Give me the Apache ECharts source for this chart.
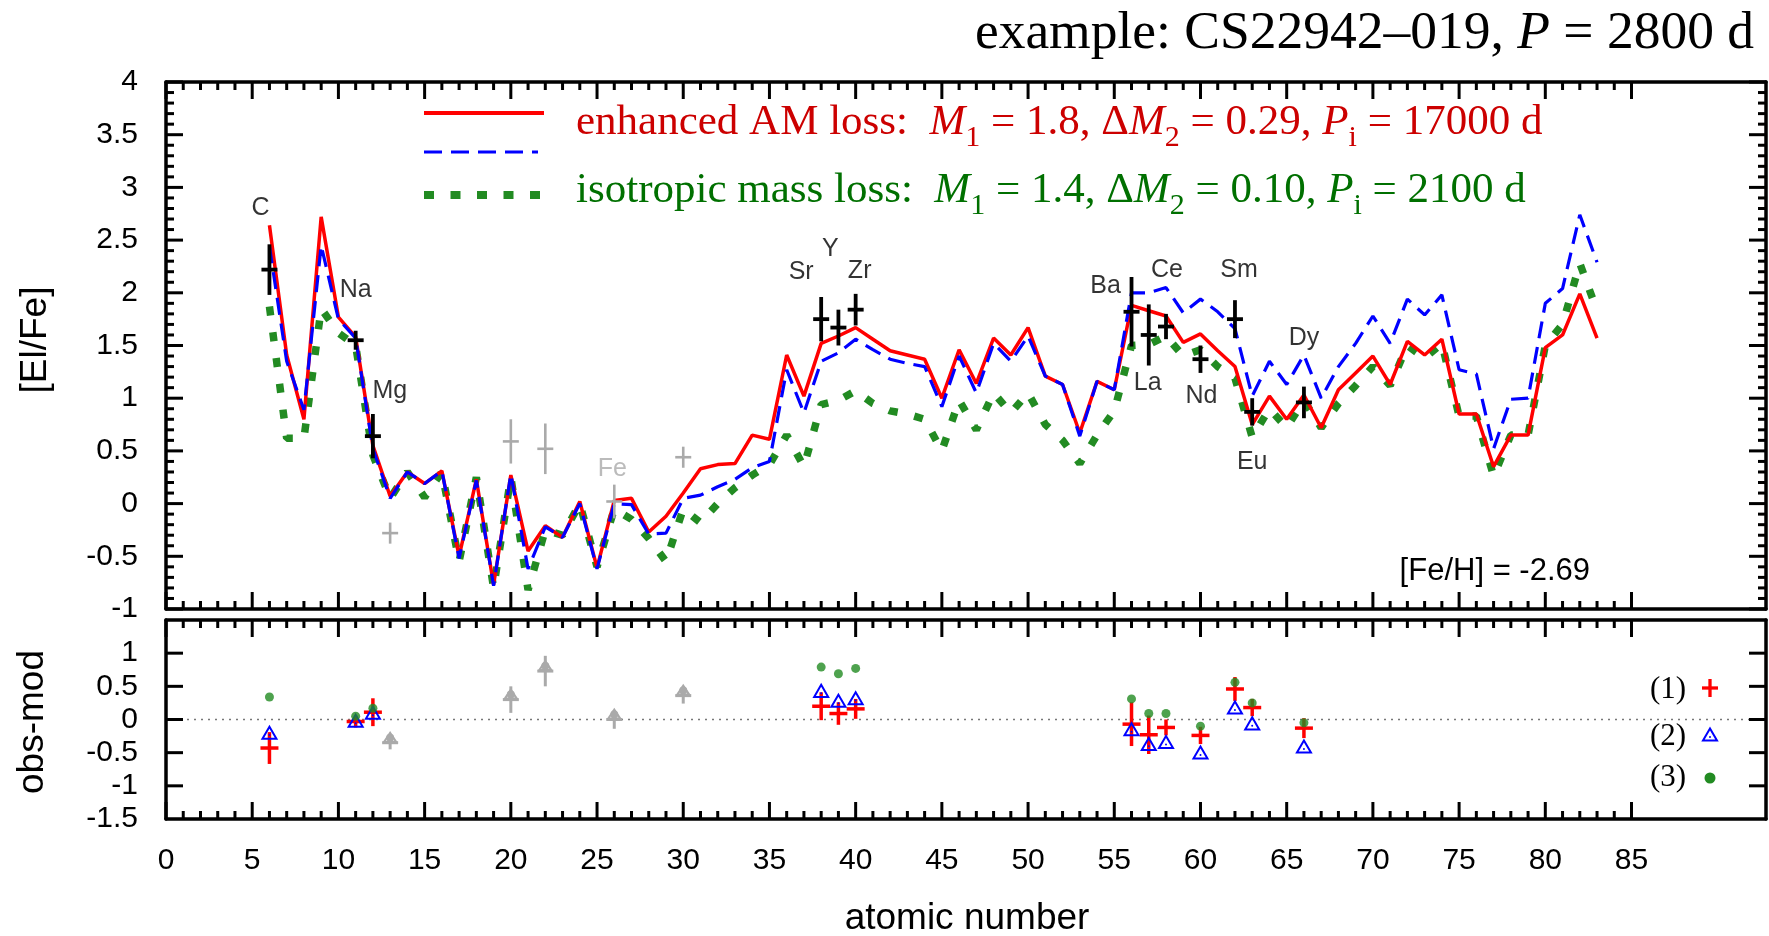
<!DOCTYPE html>
<html>
<head>
<meta charset="utf-8">
<title>CS22942-019 abundance pattern</title>
<script src="https://cdn.jsdelivr.net/npm/echarts@6.0.0/dist/echarts.min.js"></script>
<style>
  html, body { margin: 0; padding: 0; background: #ffffff; }
  #chart { width: 1769px; height: 936px; }
</style>
</head>
<body>
<div id="chart"></div>
<script>
// ---------------------------------------------------------------------------
// Data
// ---------------------------------------------------------------------------
const atomicNumbers = [6, 7, 8, 9, 10, 11, 12, 13, 14, 15, 16, 17, 18, 19, 20, 21, 22, 23, 24, 25,
  26, 27, 28, 29, 30, 31, 32, 33, 34, 35, 36, 37, 38, 39, 40, 41, 42, 43, 44, 45,
  46, 47, 48, 49, 50, 51, 52, 53, 54, 55, 56, 57, 58, 59, 60, 61, 62, 63, 64, 65,
  66, 67, 68, 69, 70, 71, 72, 73, 74, 75, 76, 77, 78, 79, 80, 81, 82, 83];

// model (1): enhanced angular-momentum loss
const modelEnhancedAM = [2.64, 1.41, 0.80, 2.72, 1.77, 1.58, 0.55, 0.07, 0.30, 0.19,
  0.31, -0.50, 0.23, -0.77, 0.27, -0.45, -0.21, -0.32, 0.02, -0.61,
  0.03, 0.05, -0.27, -0.12, 0.10, 0.33, 0.37, 0.38, 0.65, 0.61,
  1.41, 1.02, 1.52, 1.59, 1.67, 1.56, 1.45, 1.41, 1.37, 1.00,
  1.46, 1.14, 1.57, 1.41, 1.67, 1.21, 1.13, 0.67, 1.16, 1.08,
  1.88, 1.83, 1.78, 1.53, 1.61, 1.45, 1.30, 0.75, 1.02, 0.80,
  1.03, 0.72, 1.08, 1.24, 1.40, 1.13, 1.54, 1.41, 1.56, 0.85,
  0.85, 0.35, 0.65, 0.65, 1.48, 1.60, 1.99, 1.57];

// model (2): dashed blue curve
const modelTwo = [2.44, 1.35, 0.89, 2.45, 1.75, 1.57, 0.52, 0.05, 0.30, 0.19,
  0.31, -0.52, 0.22, -0.78, 0.28, -0.62, -0.22, -0.32, 0.00, -0.62,
  0.00, -0.01, -0.29, -0.28, 0.05, 0.08, 0.16, 0.23, 0.34, 0.40,
  1.27, 0.86, 1.35, 1.43, 1.56, 1.46, 1.37, 1.33, 1.30, 0.92,
  1.40, 1.05, 1.52, 1.35, 1.59, 1.21, 1.13, 0.64, 1.16, 1.08,
  2.00, 2.00, 2.05, 1.81, 1.94, 1.82, 1.66, 1.02, 1.35, 1.13,
  1.41, 1.00, 1.30, 1.52, 1.78, 1.52, 1.94, 1.79, 1.98, 1.27,
  1.23, 0.52, 0.99, 1.00, 1.90, 2.04, 2.74, 2.29];

// model (3): isotropic mass loss
const modelIsotropic = [1.87, 0.62, 0.62, 1.85, 1.62, 1.50, 0.46, 0.05, 0.30, 0.06,
  0.30, -0.55, 0.25, -0.80, 0.25, -0.82, -0.25, -0.30, 0.00, -0.60,
  -0.05, -0.15, -0.33, -0.55, -0.05, -0.18, 0.00, 0.15, 0.27, 0.37,
  0.65, 0.35, 0.94, 0.98, 1.07, 0.95, 0.88, 0.85, 0.80, 0.50,
  0.98, 0.70, 1.05, 0.86, 1.05, 0.75, 0.60, 0.38, 0.65, 0.88,
  1.50, 1.51, 1.59, 1.40, 1.46, 1.30, 1.19, 0.63, 0.90, 0.72,
  0.98, 0.72, 0.95, 1.12, 1.30, 1.12, 1.50, 1.38, 1.52, 0.83,
  0.83, 0.26, 0.65, 0.65, 1.50, 1.70, 2.28, 1.83];

// observed abundances used in the fit
const obsNames = ['C', 'Na', 'Mg', 'Sr', 'Y', 'Zr', 'Ba', 'La', 'Ce', 'Nd', 'Sm', 'Eu', 'Dy'];
const obsZ     = [6, 11, 12, 38, 39, 40, 56, 57, 58, 60, 62, 63, 66];
const obsValue = [2.22, 1.55, 0.64, 1.75, 1.67, 1.84, 1.82, 1.60, 1.68, 1.37, 1.75, 0.87, 0.96];
const obsError = [0.24, 0.09, 0.21, 0.21, 0.17, 0.15, 0.33, 0.29, 0.12, 0.13, 0.18, 0.13, 0.15];

// observed abundances not used in the fit (grey)
const otherZ     = [13, 20, 22, 26, 30];
const otherValue = [-0.28, 0.59, 0.52, 0.02, 0.44];
const otherError = [0.10, 0.21, 0.24, 0.16, 0.10];
const otherNames = {26: 'Fe'};

// residuals obs - mod for models (1), (2), (3)
const residualOne   = [-0.43, -0.03, 0.11, 0.20, 0.09, 0.16, -0.07, -0.23, -0.12, -0.24, 0.46, 0.18, -0.13];
const residualTwo   = [-0.22, -0.04, 0.08, 0.41, 0.26, 0.30, -0.17, -0.39, -0.36, -0.52, 0.16, -0.08, -0.43];
const residualThree = [0.34, 0.05, 0.17, 0.79, 0.69, 0.77, 0.31, 0.09, 0.09, -0.10, 0.56, 0.25, -0.05];
const otherResidual = [-0.35, 0.30, 0.73, 0.00, 0.36];
const otherResidualError = [0.10, 0.20, 0.23, 0.14, 0.12];

// axis ticks and tick labels
const xTickLabels = [0, 5, 10, 15, 20, 25, 30, 35, 40, 45, 50, 55, 60, 65, 70, 75, 80, 85];
const xMinorTicks = [1, 2, 3, 4, 6, 7, 8, 9, 11, 12, 13, 14, 16, 17, 18, 19, 21, 22, 23, 24,
  26, 27, 28, 29, 31, 32, 33, 34, 36, 37, 38, 39, 41, 42, 43, 44, 46, 47, 48, 49,
  51, 52, 53, 54, 56, 57, 58, 59, 61, 62, 63, 64, 66, 67, 68, 69, 71, 72, 73, 74,
  76, 77, 78, 79, 81, 82, 83, 84];
const yTickLabelsUpper = [-1, -0.5, 0, 0.5, 1, 1.5, 2, 2.5, 3, 3.5, 4];
const yTicksLower = [-1, -0.5, 0, 0.5, 1];
const yLabelsLower = [-1.5, -1, -0.5, 0, 0.5, 1];

// ---------------------------------------------------------------------------
// Layout and style
// ---------------------------------------------------------------------------
const SANS = '"Liberation Sans", Arial, Helvetica, sans-serif';
const SERIF = '"Liberation Serif", "Times New Roman", serif';
const RED = '#ff0000', BLUE = '#0000ff', GREEN = '#228b22', GREY = '#aaaaaa';
const RED_TEXT = '#cc0000', GREEN_TEXT = '#007000';
const TICK_COLOR = '#000000';
const XMAX = 92.8;
const LEFT = 166, WIDTH = 1600;
const TOP_UPPER = 82, H_UPPER = 527;
const TOP_LOWER = 620, H_LOWER = 199;
const MAJOR_LEN = 17, MINOR_LEN = 8, TICK_WIDTH = 3;
const FRAME = { show: true, onZero: false, lineStyle: { color: '#000', width: 3.5 } };

// minor ticks of the upper y axis: every 0.1 between the labelled values
const yMinorUpper = [];
for (let k = -10; k <= 40; k++) { if (k % 5 !== 0) yMinorUpper.push(k / 10); }

// pixel offsets of the element names relative to their data point
const nameOffset = {
  C: [-9, -62], Na: [0, -50], Mg: [17, -45], Fe: [-2, -32],
  Sr: [-20, -47], Y: [-8, -78], Zr: [4, -39],
  Ba: [-26, -26], La: [-1, 48], Ce: [1, -56], Nd: [1, 37],
  Sm: [4, -49], Eu: [0, 50], Dy: [0, -64]
};

function pairs(xs, ys) { return xs.map((x, i) => [x, ys[i]]); }
function triples(xs, ys, es) { return xs.map((x, i) => [x, ys[i], es[i]]); }

function xAxisFor(grid, position, withLabels) {
  return {
    type: 'value', gridIndex: grid, position: position, min: 0, max: XMAX, interval: 5,
    axisLine: FRAME, splitLine: { show: false }, axisTick: { show: false },
    axisLabel: withLabels
      ? { show: true, customValues: xTickLabels, margin: 27, color: '#000', fontFamily: SANS, fontSize: 30 }
      : { show: false }
  };
}

function yAxisFor(grid, position, min, max, labels) {
  return {
    type: 'value', gridIndex: grid, position: position, min: min, max: max, interval: 0.5,
    axisLine: FRAME, splitLine: { show: false }, axisTick: { show: false },
    axisLabel: labels
      ? { show: true, customValues: labels, margin: 28, color: '#000', fontFamily: SANS, fontSize: 30 }
      : { show: false }
  };
}

// tick marks pointing into the panel from both opposite frame edges
function xTickRenderer(params, api) {
  const cs = params.coordSys;
  const x = api.coord([api.value(0), api.value(1)])[0];
  const len = api.value(2);
  const top = cs.y, bottom = cs.y + cs.height;
  const st = { stroke: TICK_COLOR, lineWidth: TICK_WIDTH };
  return { type: 'group', children: [
    { type: 'line', shape: { x1: x, y1: bottom, x2: x, y2: bottom - len }, style: st },
    { type: 'line', shape: { x1: x, y1: top, x2: x, y2: top + len }, style: st }
  ] };
}

function yTickRenderer(params, api) {
  const cs = params.coordSys;
  const y = api.coord([api.value(0), api.value(1)])[1];
  const len = api.value(2);
  const left = cs.x, right = cs.x + cs.width;
  const st = { stroke: TICK_COLOR, lineWidth: TICK_WIDTH };
  return { type: 'group', children: [
    { type: 'line', shape: { x1: left, y1: y, x2: left + len, y2: y }, style: st },
    { type: 'line', shape: { x1: right, y1: y, x2: right - len, y2: y }, style: st }
  ] };
}

function tickSeries(axisX, axisY, renderer, data) {
  return { type: 'custom', xAxisIndex: axisX, yAxisIndex: axisY, data: data,
    encode: { x: 0, y: 1 }, renderItem: renderer, clip: false, silent: true, z: 20 };
}

function xTickData(major, minor) {
  return major.map(v => [v, 0, MAJOR_LEN]).concat(minor.map(v => [v, 0, MINOR_LEN]));
}
function yTickData(major, minor) {
  return major.map(v => [0, v, MAJOR_LEN]).concat(minor.map(v => [0, v, MINOR_LEN]));
}

// error-bar cross: vertical bar spans value +/- error, short horizontal bar at value
function crossRenderer(color, lineWidth, half) {
  return function (params, api) {
    const x = api.value(0), y = api.value(1), e = api.value(2);
    const c = api.coord([x, y]);
    const hi = api.coord([x, y + e]);
    const lo = api.coord([x, y - e]);
    return {
      type: 'group',
      children: [
        { type: 'line', shape: { x1: c[0], y1: hi[1], x2: c[0], y2: lo[1] },
          style: { stroke: color, lineWidth: lineWidth } },
        { type: 'line', shape: { x1: c[0] - half, y1: c[1], x2: c[0] + half, y2: c[1] },
          style: { stroke: color, lineWidth: lineWidth } }
      ]
    };
  };
}

function triangleShape(cx, cy, size, color) {
  const h = size * 0.86;
  return [
    { type: 'polygon',
      shape: { points: [[cx, cy - h * 0.62], [cx - size / 2, cy + h * 0.38], [cx + size / 2, cy + h * 0.38]] },
      style: { fill: 'none', stroke: color, lineWidth: 2 } },
    { type: 'circle', shape: { cx: cx, cy: cy + 1, r: 1 }, style: { fill: color } }
  ];
}

function triangleRenderer(color, size) {
  return function (params, api) {
    const c = api.coord([api.value(0), api.value(1)]);
    return { type: 'group', children: triangleShape(c[0], c[1], size, color) };
  };
}

function otherRenderer(params, api) {
  const x = api.value(0), y = api.value(1), e = api.value(2);
  const c = api.coord([x, y]);
  const hi = api.coord([x, y + e]);
  const lo = api.coord([x, y - e]);
  return {
    type: 'group',
    children: [
      { type: 'line', shape: { x1: c[0], y1: hi[1], x2: c[0], y2: lo[1] }, style: { stroke: GREY, lineWidth: 3 } },
      { type: 'line', shape: { x1: c[0] - 8, y1: c[1], x2: c[0] + 8, y2: c[1] }, style: { stroke: GREY, lineWidth: 3 } },
      { type: 'polygon', shape: { points: [[c[0], c[1] - 10], [c[0] - 6, c[1] - 1], [c[0] + 6, c[1] - 1]] },
        style: { fill: 'none', stroke: GREY, lineWidth: 2 } },
      { type: 'circle', shape: { cx: c[0], cy: c[1] - 5, r: 4 }, style: { fill: GREY } }
    ]
  };
}

// ---------------------------------------------------------------------------
// Legend and annotation text
// ---------------------------------------------------------------------------
function richStyles(color, size, subSize) {
  return {
    t: { fontFamily: SERIF, fontSize: size, fill: color, lineHeight: size * 1.4 },
    i: { fontFamily: SERIF, fontSize: size, fontStyle: 'italic', fill: color, lineHeight: size * 1.4 },
    s: { fontFamily: SERIF, fontSize: subSize, fill: color, verticalAlign: 'bottom' }
  };
}

function textEl(x, y, text, opts) {
  const style = Object.assign({
    text: text, fill: '#000', align: 'center', verticalAlign: 'middle',
    textAlign: 'center', textVerticalAlign: 'middle'
  }, opts.style);
  return { type: 'text', x: x, y: y, rotation: opts.rotation || 0, z: 100, style: style };
}

const legendAM = '{t|enhanced AM loss:  }{i|M}{s|1}{t| = 1.8, Δ}{i|M}{s|2}{t| = 0.29, }{i|P}{s|i}{t| = 17000 d}';
const legendIso = '{t|isotropic mass loss:  }{i|M}{s|1}{t| = 1.4, Δ}{i|M}{s|2}{t| = 0.10, }{i|P}{s|i}{t| = 2100 d}';
const titleText = '{t|example: CS22942–019, }{i|P}{t| = 2800 d}';

const graphics = [
  // title
  textEl(1754, 34, titleText, { style: { align: 'right', textAlign: 'right', rich: richStyles('#000', 53.5, 36) } }),
  // model legend
  { type: 'line', z: 100, shape: { x1: 424, y1: 113, x2: 544, y2: 113 }, style: { stroke: RED, lineWidth: 4 } },
  { type: 'line', z: 100, shape: { x1: 424, y1: 152, x2: 538, y2: 152 }, style: { stroke: BLUE, lineWidth: 3.2, lineDash: [18, 9] } },
  { type: 'line', z: 100, shape: { x1: 424, y1: 195, x2: 544, y2: 195 }, style: { stroke: GREEN, lineWidth: 8, lineDash: [10, 16.5] } },
  textEl(576, 123, legendAM, { style: { align: 'left', textAlign: 'left', rich: richStyles(RED_TEXT, 43, 30) } }),
  textEl(576, 191, legendIso, { style: { align: 'left', textAlign: 'left', rich: richStyles(GREEN_TEXT, 43, 30) } }),
  // metallicity note
  textEl(1590, 571, '[Fe/H] = -2.69', { style: { align: 'right', textAlign: 'right', font: '31px ' + SANS } }),
  // axis titles
  textEl(36, 340, '[El/Fe]', { rotation: Math.PI / 2, style: { font: '37px ' + SANS } }),
  textEl(33, 722, 'obs-mod', { rotation: Math.PI / 2, style: { font: '37px ' + SANS } }),
  textEl(967, 919, 'atomic number', { style: { font: '37px ' + SANS } }),
  // residual legend
  textEl(1668, 690, '(1)', { style: { font: '31px ' + SERIF } }),
  textEl(1668, 737, '(2)', { style: { font: '31px ' + SERIF } }),
  textEl(1668, 778, '(3)', { style: { font: '31px ' + SERIF } }),
  { type: 'line', z: 100, shape: { x1: 1702, y1: 688, x2: 1718, y2: 688 }, style: { stroke: RED, lineWidth: 3.3 } },
  { type: 'line', z: 100, shape: { x1: 1710, y1: 679, x2: 1710, y2: 697 }, style: { stroke: RED, lineWidth: 3.3 } },
  { type: 'group', z: 100, children: triangleShape(1710, 736, 14, BLUE) },
  { type: 'circle', z: 100, shape: { cx: 1710, cy: 778, r: 5.5 }, style: { fill: GREEN } }
];

// ---------------------------------------------------------------------------
// Chart
// ---------------------------------------------------------------------------
const option = {
  animation: false,
  backgroundColor: '#ffffff',
  grid: [
    { left: LEFT, top: TOP_UPPER, width: WIDTH, height: H_UPPER, show: false, outerBoundsMode: 'none' },
    { left: LEFT, top: TOP_LOWER, width: WIDTH, height: H_LOWER, show: false, outerBoundsMode: 'none' }
  ],
  xAxis: [
    xAxisFor(0, 'bottom', false),  // 0: upper panel
    xAxisFor(0, 'top', false),     // 1
    xAxisFor(1, 'bottom', true),   // 2: lower panel
    xAxisFor(1, 'top', false)      // 3
  ],
  yAxis: [
    yAxisFor(0, 'left', -1, 4, yTickLabelsUpper),    // 0: upper panel
    yAxisFor(0, 'right', -1, 4, null),               // 1
    yAxisFor(1, 'left', -1.5, 1.5, yLabelsLower),    // 2: lower panel
    yAxisFor(1, 'right', -1.5, 1.5, null)            // 3
  ],
  series: [
    // ---- frame ticks
    tickSeries(0, 0, xTickRenderer, xTickData(xTickLabels, xMinorTicks)),
    tickSeries(0, 0, yTickRenderer, yTickData(yTickLabelsUpper, yMinorUpper)),
    tickSeries(2, 2, xTickRenderer, xTickData(xTickLabels, xMinorTicks)),
    tickSeries(2, 2, yTickRenderer, yTickData(yTicksLower, [])),
    // ---- upper panel: model curves
    { name: 'isotropic mass loss', type: 'line', xAxisIndex: 0, yAxisIndex: 0,
      data: pairs(atomicNumbers, modelIsotropic), showSymbol: false, symbol: 'none', silent: true,
      lineStyle: { color: GREEN, width: 7.5, type: [9, 17], cap: 'butt' }, z: 2 },
    { name: 'enhanced AM loss', type: 'line', xAxisIndex: 0, yAxisIndex: 0,
      data: pairs(atomicNumbers, modelEnhancedAM), showSymbol: false, symbol: 'none', silent: true,
      lineStyle: { color: RED, width: 3.5 }, z: 3 },
    { name: 'model 2', type: 'line', xAxisIndex: 0, yAxisIndex: 0,
      data: pairs(atomicNumbers, modelTwo), showSymbol: false, symbol: 'none', silent: true,
      lineStyle: { color: BLUE, width: 3.2, type: [17, 9] }, z: 4 },
    // ---- upper panel: observations
    { name: 'other elements', type: 'custom', xAxisIndex: 0, yAxisIndex: 0,
      data: triples(otherZ, otherValue, otherError), encode: { x: 0, y: 1 },
      renderItem: crossRenderer(GREY, 2.6, 8), silent: true, z: 5 },
    { name: 'observed', type: 'custom', xAxisIndex: 0, yAxisIndex: 0,
      data: triples(obsZ, obsValue, obsError), encode: { x: 0, y: 1 },
      renderItem: crossRenderer('#000', 3.8, 8), silent: true, z: 6 },
    { name: 'element names', type: 'scatter', xAxisIndex: 0, yAxisIndex: 0, symbolSize: 0, silent: true, z: 7,
      data: obsZ.map((z, i) => ({ value: [z, obsValue[i]], name: obsNames[i],
        label: { offset: nameOffset[obsNames[i]] } })),
      label: { show: true, position: 'inside', formatter: '{b}', color: '#000', fontFamily: SANS, fontSize: 25 } },
    { name: 'other names', type: 'scatter', xAxisIndex: 0, yAxisIndex: 0, symbolSize: 0, silent: true, z: 7,
      data: otherZ.filter(z => otherNames[z]).map(z => ({ value: [z, otherValue[otherZ.indexOf(z)]], name: otherNames[z],
        label: { offset: nameOffset[otherNames[z]] } })),
      label: { show: true, position: 'inside', formatter: '{b}', color: GREY, fontFamily: SANS, fontSize: 25 } },
    // ---- lower panel: residuals
    { name: 'zero', type: 'line', xAxisIndex: 2, yAxisIndex: 2, data: [[0, 0], [XMAX, 0]],
      showSymbol: false, symbol: 'none', silent: true,
      lineStyle: { color: '#777', width: 1.5, type: [2, 5] }, z: 1 },
    { name: 'other residuals', type: 'custom', xAxisIndex: 2, yAxisIndex: 2,
      data: triples(otherZ, otherResidual, otherResidualError), encode: { x: 0, y: 1 },
      renderItem: otherRenderer, silent: true, z: 2 },
    { name: '(1)', type: 'custom', xAxisIndex: 2, yAxisIndex: 2,
      data: triples(obsZ, residualOne, obsError), encode: { x: 0, y: 1 },
      renderItem: crossRenderer(RED, 3.5, 9), silent: true, z: 3 },
    { name: '(2)', type: 'custom', xAxisIndex: 2, yAxisIndex: 2,
      data: pairs(obsZ, residualTwo), encode: { x: 0, y: 1 },
      renderItem: triangleRenderer(BLUE, 14), silent: true, z: 4 },
    { name: '(3)', type: 'scatter', xAxisIndex: 2, yAxisIndex: 2,
      data: pairs(obsZ, residualThree), symbol: 'circle', symbolSize: 9, silent: true,
      itemStyle: { color: GREEN }, z: 5 }
  ],
  graphic: { elements: graphics }
};

const chart = echarts.init(document.getElementById('chart'), null, { renderer: 'canvas' });
chart.setOption(option);
</script>
</body>
</html>
